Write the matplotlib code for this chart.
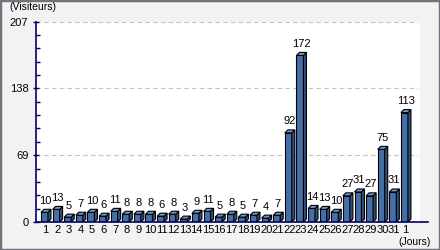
import numpy as np
import matplotlib
matplotlib.use("Agg")
import matplotlib.pyplot as plt
from matplotlib.patches import Polygon, Rectangle
from matplotlib.lines import Line2D

# ── Daten ────────────────────────────────────────────────────────────────────
jours = [str(d) for d in range(1, 32)] + ["1"]
visiteurs = [10, 13, 5, 7, 10, 6, 11, 8, 8, 8, 6, 8, 3, 9, 11, 5,
             8, 5, 7, 4, 7, 92, 172, 14, 13, 10, 27, 31, 27, 75, 31, 113]
y_ticks = [0, 69, 138, 207]

# ── Farben ───────────────────────────────────────────────────────────────────
bg = "#f2f2f2"
border = "#73737f"
navy = "#000066"
front_col = "#4570a6"
side_col = "#2f507f"
top_col = "#7196c8"

plt.rcParams["font.family"] = ["Liberation Sans", "DejaVu Sans"]

fig = plt.figure(figsize=(4.4, 2.5), dpi=100, facecolor=bg)
# Rahmen
fig.patches.append(Rectangle((0, 0), 1, 1, transform=fig.transFigure,
                             fill=False, edgecolor=border, linewidth=2.5))
ax = fig.add_axes([36 / 440, 28 / 250, 384 / 440, 200.5 / 250])
ax.set_facecolor("white")

x = np.arange(len(visiteurs))
w = 0.6      # Breite der Vorderseite
dx = 0.26    # 3D-Tiefe in x
dy = 3.1     # 3D-Tiefe in y

# ── Balken (3D-Optik) ────────────────────────────────────────────────────────
ax.bar(x, visiteurs, width=w, align="edge", color=front_col,
       edgecolor="black", linewidth=0.8, zorder=3)
for xi, v in zip(x, visiteurs):
    x1 = xi + w
    side = [(x1, 0), (x1 + dx, dy), (x1 + dx, v + dy), (x1, v)]
    top = [(xi, v), (x1, v), (x1 + dx, v + dy), (xi + dx, v + dy)]
    ax.add_patch(Polygon(side, closed=True, facecolor=side_col,
                         edgecolor="black", linewidth=0.8, zorder=3))
    ax.add_patch(Polygon(top, closed=True, facecolor=top_col,
                         edgecolor="black", linewidth=0.8, zorder=3))
    ax.annotate(str(v), xy=(xi + 0.4, v + dy), xytext=(0, 2.5),
                textcoords="offset points", ha="center", va="bottom",
                fontsize=8, color="black", zorder=4)

# ── Achsen ───────────────────────────────────────────────────────────────────
ax.set_xlim(-0.43, 32.64)
ax.set_ylim(0, 207)
ax.set_xticks(x + 0.4)
ax.set_xticklabels(jours, fontsize=8)
ax.tick_params(axis="x", length=0, pad=2)
ax.set_yticks(y_ticks)
ax.set_yticklabels([str(t) for t in y_ticks], fontsize=8)
ax.set_yticks(np.arange(0, 207.1, 13.8), minor=True)
ax.tick_params(axis="y", which="major", direction="inout", length=5,
               color=navy, width=1, pad=3)
ax.tick_params(axis="y", which="minor", direction="in", length=3,
               color=navy, width=1)

for t in y_ticks[1:]:
    ax.axhline(t, xmax=0.995, color="#c4c4c4", linestyle=(0, (4, 3)),
               linewidth=0.8, zorder=1)

for s in ["top", "right", "bottom"]:
    ax.spines[s].set_visible(False)
ax.spines["left"].set_color(navy)
ax.spines["left"].set_linewidth(1.2)
ax.add_line(Line2D([0, 1.02], [0, 0], transform=ax.transAxes, color=navy,
                   linewidth=1.2, clip_on=False, zorder=5))

# ── Beschriftungen ───────────────────────────────────────────────────────────
fig.text(9 / 440, 1 - 7 / 250, "(Visiteurs)", fontsize=7.5,
         ha="left", va="center")
fig.text(431 / 440, 1 - 242 / 250, "(Jours)", fontsize=7.5,
         ha="right", va="center")

fig.savefig("out.png", dpi=100, facecolor=bg)
